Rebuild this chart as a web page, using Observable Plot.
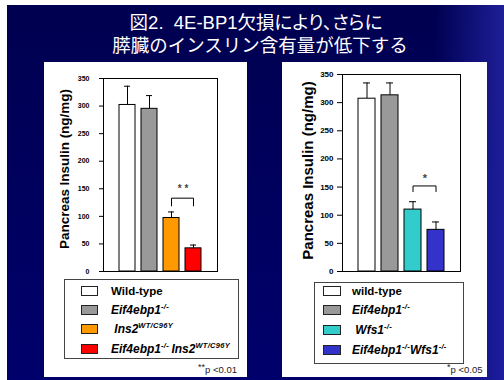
<!DOCTYPE html>
<html>
<head>
<meta charset="utf-8">
<script src="https://cdn.jsdelivr.net/npm/d3@7"></script>
<script src="https://cdn.jsdelivr.net/npm/@observablehq/plot@0.6"></script>
<style>
  html, body { margin: 0; padding: 0; background: #fff; }
  #page { position: relative; width: 504px; height: 380px; overflow: hidden; font-family: "Liberation Sans", Arial, sans-serif; }
  #bg { position: absolute; left: 7px; top: 5px; right: 0; bottom: 0;
        background: linear-gradient(90deg, rgba(0,0,0,0) 86%, rgba(40,40,175,0.75) 100%),
                    linear-gradient(180deg, #000050 0%, #00006c 100%); }
  .title { position: absolute; left: 0; width: 512px; text-align: center; color: #fff;
           font-family: "Liberation Sans", "Noto Sans CJK JP", sans-serif; font-size: 18.5px; line-height: 22px; white-space: nowrap; }
  .panel { position: absolute; background: #fff; }
  .chart { position: absolute; }
  .ylab { position: absolute; font-weight: bold; white-space: nowrap; color: #000; transform-origin: center center; }
  .legend { position: absolute; border: 1px solid #444; box-sizing: border-box; }
  .sw { position: absolute; box-sizing: border-box; border: 1px solid #222; }
  .lt { position: absolute; font-weight: bold; font-size: 11.5px; line-height: 12px; white-space: nowrap; color: #000; transform: translateY(-50%); }
  .lt i { font-size: 12px; }
  .lt sup { font-size: 7.5px; position: relative; top: -1px; vertical-align: top; line-height: 7px; letter-spacing: 0.3px; }
  .pv { position: absolute; font-size: 9.5px; color: #222; white-space: nowrap; }
  .pv sup { font-size: 9px; vertical-align: top; position: relative; top: -2px; }
</style>
</head>
<body>
<div id="page">
  <div id="bg"></div>
  <div class="title" style="top:12px; font-feature-settings: 'palt';">図2.&nbsp;&nbsp;4E-BP1欠損により、さらに</div>
  <div class="title" style="top:35px; left:4px;">膵臓のインスリン含有量が低下する</div>
  <div class="panel" style="left:44px; top:62px; width:203px; height:315px;"></div>
  <div class="panel" style="left:282px; top:62px; width:205px; height:315px;"></div>
</div>
<script>
// Pancreatic insulin content, left study (Ins2 Akita background)
const leftGroups = ["Wild-type", "Eif4ebp1-/-", "Ins2WT/C96Y", "Eif4ebp1-/-Ins2WT/C96Y"];
const leftMeans = [302, 295, 97, 42];
const leftSEM = [34, 24, 11, 6];
const leftColors = ["#ffffff", "#999999", "#ff9900", "#ff0000"];
const leftLabels = [
  "Wild-type",
  "<i>Eif4ebp1<sup>-/-</sup></i>",
  "<i>&nbsp;Ins2<sup>WT/C96Y</sup></i>",
  "<i>Eif4ebp1<sup>-/-</sup>&thinsp;Ins2<sup>WT/C96Y</sup></i>"
];

// Pancreatic insulin content, right study (Wfs1 background)
const rightGroups = ["wild-type", "Eif4ebp1-/-", "Wfs1-/-", "Eif4ebp1-/-Wfs1-/-"];
const rightMeans = [307, 313, 110, 74];
const rightSEM = [28, 22, 14, 14];
const rightColors = ["#ffffff", "#999999", "#33cccc", "#3333cc"];
const rightLabels = [
  "wild-type",
  "<i>Eif4ebp1<sup>-/-</sup></i>",
  "<i>&nbsp;Wfs1<sup>-/-</sup></i>",
  "<i>Eif4ebp1<sup>-/-</sup>Wfs1<sup>-/-</sup></i>"
];

const yTicks = [0, 50, 100, 150, 200, 250, 300, 350];
const yLabel = "Pancreas Insulin (ng/mg)";

// significance brackets between the two mutant groups
const leftSig = {a: 2, b: 3, low: 119, high: 133, mark: "* *", markY: 150, note: "p <0.01", noteStars: "**"};
const rightSig = {a: 2, b: 3, low: 142, high: 152, mark: "*", markY: 166, note: "p <0.05", noteStars: "*"};

const page = document.getElementById("page");

function drawChart(cfg) {
  const rows = cfg.groups.map((g, i) => ({group: g, mean: cfg.means[i], sem: cfg.sem[i]}));
  const s = cfg.sig;
  const bracket = [
    {x: cfg.groups[s.a], y: s.low},
    {x: cfg.groups[s.a], y: s.high},
    {x: cfg.groups[s.b], y: s.high},
    {x: cfg.groups[s.b], y: s.low}
  ];
  const chart = Plot.plot({
    width: cfg.width,
    height: cfg.height,
    marginLeft: cfg.ml, marginRight: cfg.mr, marginTop: cfg.mt, marginBottom: cfg.mb,
    style: {background: "transparent", fontFamily: "Liberation Sans, Arial, sans-serif", color: "#000"},
    x: {type: "band", domain: cfg.groups, paddingInner: cfg.pi, paddingOuter: cfg.po, axis: null},
    y: {domain: [0, 350], axis: null},
    color: {type: "ordinal", domain: cfg.groups, range: cfg.colors},
    marks: [
      Plot.axisY({ticks: yTicks, tickSize: cfg.tickSize, tickPadding: cfg.tickPad, fontSize: cfg.tickFont,
                  fontWeight: "bold", label: null, stroke: "#000", tickFormat: d => String(d)}),
      Plot.ruleX(rows, {x: "group", y1: "mean", y2: d => d.mean + d.sem, stroke: "#000", strokeWidth: 1}),
      Plot.tickY(rows, {x: "group", y: d => d.mean + d.sem, insetLeft: cfg.capInset, insetRight: cfg.capInset, stroke: "#000", strokeWidth: 1}),
      Plot.barY(rows, {x: "group", y: "mean", fill: "group", stroke: "#000", strokeWidth: 1}),
      Plot.line(bracket, {x: "x", y: "y", stroke: "#000", strokeWidth: 1}),
      Plot.text([s.mark], {x: () => cfg.groups[s.a], y: () => s.markY, dx: cfg.starDx, text: d => d,
                           fontSize: cfg.starFont, fill: "#444", fontWeight: "bold"}),
      Plot.frame({stroke: "#000", strokeWidth: 1})
    ]
  });
  chart.classList.add("chart");
  chart.style.left = cfg.left + "px";
  chart.style.top = cfg.top + "px";
  page.appendChild(chart);

  // rotated axis title
  const yl = document.createElement("div");
  yl.className = "ylab";
  yl.textContent = yLabel;
  yl.style.fontSize = cfg.labFont + "px";
  page.appendChild(yl);
  const w = yl.offsetWidth, h = yl.offsetHeight;
  yl.style.left = (cfg.labX - w / 2) + "px";
  yl.style.top = (cfg.labY - h / 2) + "px";
  yl.style.transform = `rotate(-90deg) scaleX(${cfg.labStretch})`;

  // legend box
  const lg = document.createElement("div");
  lg.className = "legend";
  Object.assign(lg.style, {left: cfg.lg.x + "px", top: cfg.lg.y + "px", width: cfg.lg.w + "px", height: cfg.lg.h + "px"});
  page.appendChild(lg);
  cfg.labels.forEach((lab, i) => {
    const cy = cfg.lg.rows[i];
    const sw = document.createElement("div");
    sw.className = "sw";
    Object.assign(sw.style, {left: cfg.lg.swX + "px", top: (cy - 5) + "px", width: cfg.lg.swW + "px", height: "10px", background: cfg.colors[i]});
    page.appendChild(sw);
    const t = document.createElement("div");
    t.className = "lt";
    t.innerHTML = lab;
    Object.assign(t.style, {left: cfg.lg.txtX + "px", top: cy + "px"});
    page.appendChild(t);
  });

  // p-value note
  const pv = document.createElement("div");
  pv.className = "pv";
  pv.innerHTML = `<sup>${s.noteStars}</sup>${s.note}`;
  page.appendChild(pv);
  pv.style.left = (cfg.pvRight - pv.offsetWidth) + "px";
  pv.style.top = (369 - pv.offsetHeight / 2) + "px";
}

drawChart({
  groups: leftGroups, means: leftMeans, sem: leftSEM, colors: leftColors, labels: leftLabels, sig: leftSig,
  left: 44, top: 62, width: 203, height: 215, ml: 59, mr: 30, mt: 16, mb: 6,
  pi: 0.26, po: 0.61, tickSize: 4, tickPad: 10, tickFont: 7, capInset: 5, starDx: 11.5, starFont: 10,
  labFont: 12, labX: 65, labY: 169, labStretch: 1.12,
  lg: {x: 64, y: 279, w: 175, h: 80, swX: 81, swW: 17, txtX: 111, rows: [291, 310, 329, 349]},
  pvRight: 237
});

drawChart({
  groups: rightGroups, means: rightMeans, sem: rightSEM, colors: rightColors, labels: rightLabels, sig: rightSig,
  left: 282, top: 62, width: 205, height: 215, ml: 60, mr: 27, mt: 12, mb: 6,
  pi: 0.25, po: 0.66, tickSize: 5, tickPad: 4, tickFont: 8, capInset: 5, starDx: 12, starFont: 11,
  labFont: 15, labX: 307, labY: 170, labStretch: 1.0,
  lg: {x: 314, y: 282, w: 150, h: 82, swX: 323, swW: 18, txtX: 352, rows: [291, 310, 330, 350]},
  pvRight: 482
});
</script>
</body>
</html>
